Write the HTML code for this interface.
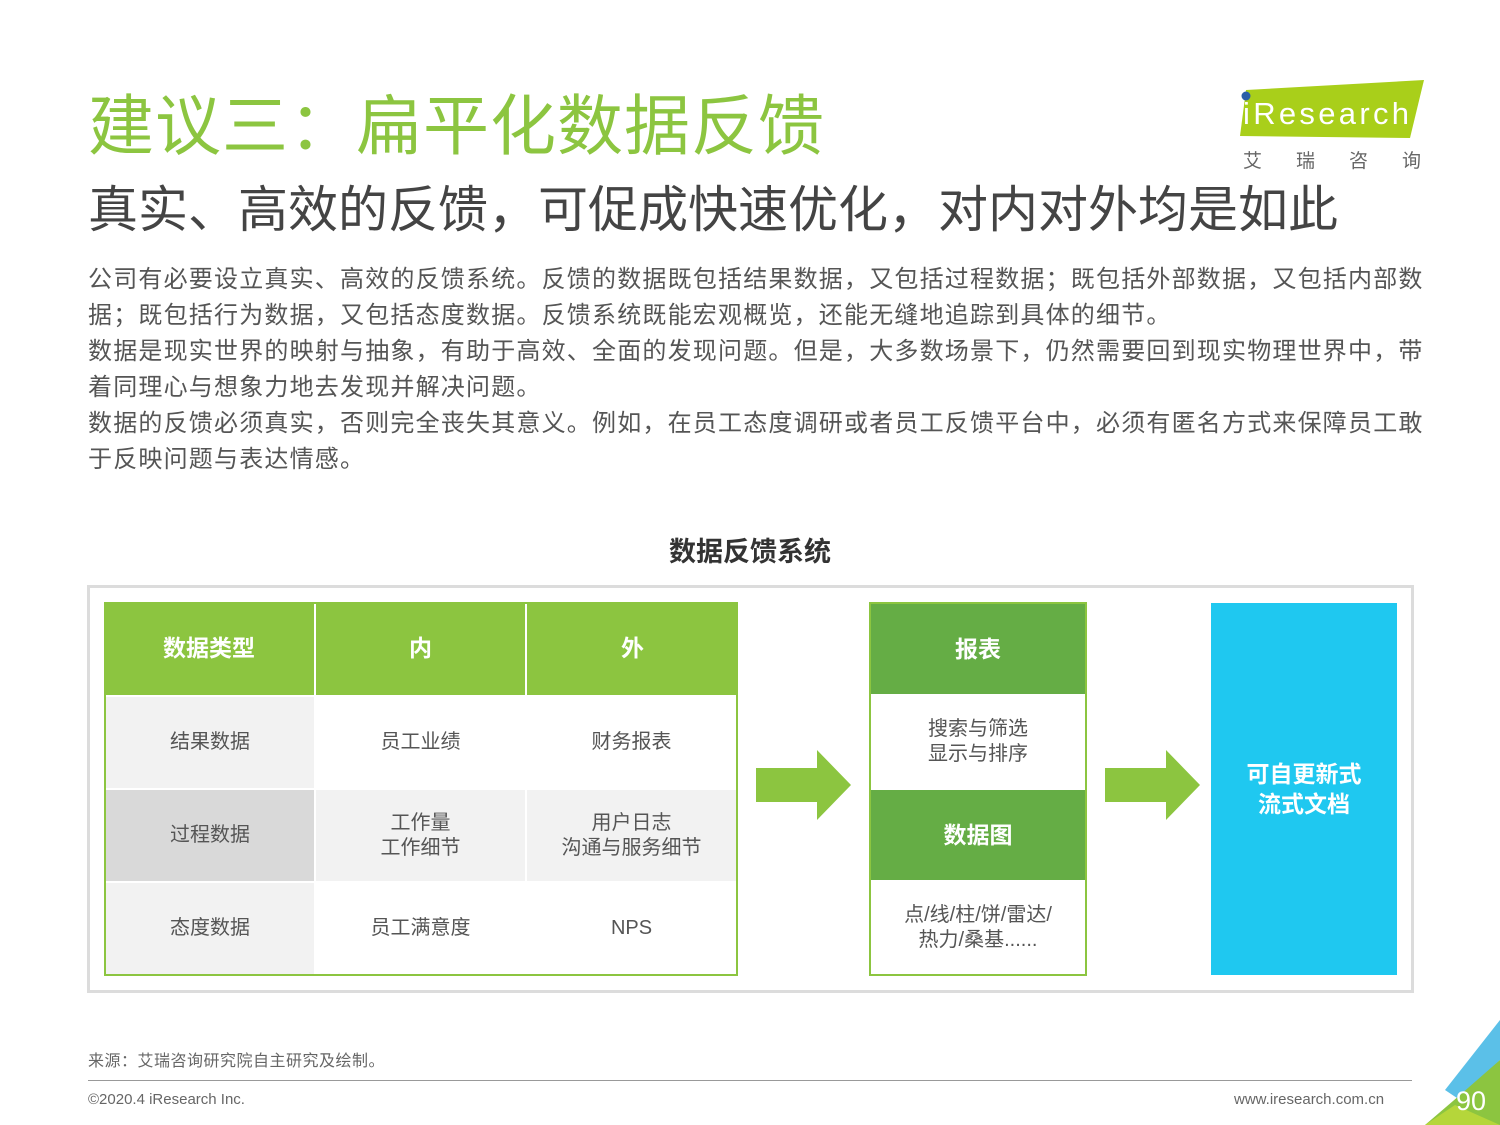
<!DOCTYPE html>
<html><head><meta charset="utf-8"><style>
*{margin:0;padding:0;box-sizing:border-box}
body{width:1500px;height:1125px;background:#fff;position:relative;overflow:hidden;font-family:"Liberation Sans","Noto Sans CJK SC",sans-serif;color:#555}
.a{position:absolute}
.t{white-space:nowrap}
.cell{position:absolute;display:flex;align-items:center;justify-content:center;text-align:center;font-size:20px;color:#555;line-height:25px}
.hd{color:#fff;font-weight:bold;font-size:23px}
</style></head><body>
<div class="a t" style="left:88px;top:86px;font-size:66px;color:#8cc540;line-height:80px;letter-spacing:1px">建议三：扁平化数据反馈</div>
<div class="a t" style="left:88px;top:178px;font-size:50px;color:#444;line-height:64px">真实、高效的反馈，可促成快速优化，对内对外均是如此</div>
<svg class="a" style="left:1238px;top:80px" width="190" height="60"><polygon points="8,10 186,0 172,58 2,56" fill="#a9cf1a"/><circle cx="8" cy="16" r="4.5" fill="#2a5ea8"/><text x="5" y="44" font-family="Liberation Sans" font-size="31" fill="#fff" textLength="166">iResearch</text></svg>
<div class="a t" style="left:1243px;top:146px;font-size:19px;color:#666;letter-spacing:34px">艾瑞咨询</div>
<div class="a" style="left:88px;top:262px;font-size:24px;line-height:36px;color:#555;letter-spacing:1.2px">
<div class="t">公司有必要设立真实、高效的反馈系统。反馈的数据既包括结果数据，又包括过程数据；既包括外部数据，又包括内部数</div>
<div class="t">据；既包括行为数据，又包括态度数据。反馈系统既能宏观概览，还能无缝地追踪到具体的细节。</div>
<div class="t">数据是现实世界的映射与抽象，有助于高效、全面的发现问题。但是，大多数场景下，仍然需要回到现实物理世界中，带</div>
<div class="t">着同理心与想象力地去发现并解决问题。</div>
<div class="t">数据的反馈必须真实，否则完全丧失其意义。例如，在员工态度调研或者员工反馈平台中，必须有匿名方式来保障员工敢</div>
<div class="t">于反映问题与表达情感。</div>
</div>
<div class="a t" style="left:0;width:1500px;text-align:center;top:530px;font-size:27px;font-weight:bold;color:#333">数据反馈系统</div>
<div class="a" style="left:87px;top:585px;width:1327px;height:408px;border:3px solid #dcdcdc"></div>
<div class="a" style="left:104px;top:602px;width:634px;height:374px;border:2px solid #8cc540;background:#fff"></div>
<div class="cell hd" style="left:104px;top:602px;width:210px;height:93px;background:#8cc540">数据类型</div>
<div class="cell hd" style="left:316px;top:602px;width:209px;height:93px;background:#8cc540">内</div>
<div class="cell hd" style="left:527px;top:602px;width:211px;height:93px;background:#8cc540">外</div>
<div class="cell" style="left:106px;top:697px;width:208px;height:91px;background:#f2f2f2">结果数据</div>
<div class="cell" style="left:316px;top:697px;width:209px;height:91px">员工业绩</div>
<div class="cell" style="left:527px;top:697px;width:209px;height:91px">财务报表</div>
<div class="cell" style="left:106px;top:790px;width:208px;height:91px;background:#d9d9d9">过程数据</div>
<div class="cell" style="left:316px;top:790px;width:209px;height:91px;background:#f2f2f2">工作量<br>工作细节</div>
<div class="cell" style="left:527px;top:790px;width:209px;height:91px;background:#f2f2f2">用户日志<br>沟通与服务细节</div>
<div class="cell" style="left:106px;top:883px;width:208px;height:91px;background:#f2f2f2">态度数据</div>
<div class="cell" style="left:316px;top:883px;width:209px;height:91px">员工满意度</div>
<div class="cell" style="left:527px;top:883px;width:209px;height:91px">NPS</div>
<svg class="a" style="left:755px;top:750px" width="97" height="72"><polygon points="1,18 62,18 62,0 96,35 62,70 62,52 1,52" fill="#8cc540"/></svg>
<svg class="a" style="left:1104px;top:750px" width="97" height="72"><polygon points="1,18 62,18 62,0 96,35 62,70 62,52 1,52" fill="#8cc540"/></svg>
<div class="a" style="left:869px;top:602px;width:218px;height:374px;border:2px solid #8cc540;background:#fff"></div>
<div class="cell hd" style="left:871px;top:604px;width:214px;height:90px;background:#65ad45">报表</div>
<div class="cell" style="left:871px;top:696px;width:214px;height:92px">搜索与筛选<br>显示与排序</div>
<div class="cell hd" style="left:871px;top:790px;width:214px;height:90px;background:#65ad45">数据图</div>
<div class="cell" style="left:871px;top:882px;width:214px;height:92px">点/线/柱/饼/雷达/<br>热力/桑基......</div>
<div class="cell hd" style="left:1211px;top:603px;width:186px;height:372px;background:#1fc8f0;line-height:30px">可自更新式<br>流式文档</div>
<div class="a t" style="left:88px;top:1047px;font-size:16px;color:#666;letter-spacing:0.5px">来源：艾瑞咨询研究院自主研究及绘制。</div>
<div class="a" style="left:88px;top:1080px;width:1324px;height:1px;background:#999"></div>
<div class="a t" style="left:88px;top:1091px;font-size:15px;color:#666">©2020.4 iResearch Inc.</div>
<div class="a t" style="left:1234px;top:1091px;font-size:15px;color:#666">www.iresearch.com.cn</div>
<svg class="a" style="left:1410px;top:1020px" width="90" height="105"><polygon points="90,0 90,40 50,80 35,70" fill="#5bc0e8"/><polygon points="90,40 90,105 15,105 50,75" fill="#8cc540"/><polygon points="45,85 90,105 15,105" fill="#b5d63a"/><text x="46" y="90" font-family="Liberation Sans" font-size="27" fill="#fff">90</text></svg>
</body></html>
